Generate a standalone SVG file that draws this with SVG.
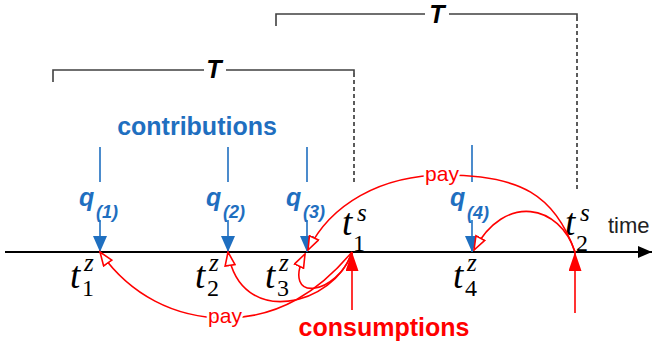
<svg xmlns="http://www.w3.org/2000/svg" width="654" height="352" viewBox="0 0 654 352">
<defs>
<style>
.br{fill:none;stroke:#404040;stroke-width:1.6}
.dash{fill:none;stroke:#333;stroke-width:1.6;stroke-dasharray:4 3}
.T{font-family:"Liberation Sans",Arial,sans-serif;font-weight:bold;font-style:italic;font-size:25px;fill:#000;text-anchor:middle}
.bl{stroke:#1F6FC0;stroke-width:1.6;fill:none}
.q{font-family:"Liberation Sans",Arial,sans-serif;font-weight:bold;font-style:italic;font-size:25px;fill:#1F6FC0}
.qs{font-family:"Liberation Sans",Arial,sans-serif;font-weight:bold;font-style:italic;font-size:18px;fill:#1F6FC0}
.rd{stroke:#FF0000;stroke-width:1.6;fill:none}
.tv{font-family:"Liberation Serif","Times New Roman",serif;font-style:italic;font-size:37px;fill:#000}
.sp{font-family:"Liberation Serif","Times New Roman",serif;font-style:italic;font-size:25px;fill:#000}
.sb{font-family:"Liberation Serif","Times New Roman",serif;font-size:24px;fill:#000}
.pay{font-family:"Liberation Sans",Arial,sans-serif;font-size:21px;fill:#FF0000;text-anchor:middle;stroke:#fff;stroke-width:5;paint-order:stroke;stroke-linejoin:round}
.big{font-family:"Liberation Sans",Arial,sans-serif;font-weight:bold;font-size:25px;text-anchor:middle}
</style>
<marker id="aBlack" markerUnits="userSpaceOnUse" markerWidth="14" markerHeight="12" refX="14" refY="6" orient="auto"><path d="M0,0 L14,6 L0,12 z" fill="#000"/></marker>
<marker id="aBlue" markerUnits="userSpaceOnUse" markerWidth="16" markerHeight="14" refX="16" refY="7" orient="auto"><path d="M0,0 L16,7 L0,14 z" fill="#1F6FC0"/></marker>
<marker id="aRed" markerUnits="userSpaceOnUse" markerWidth="19" markerHeight="13" refX="19" refY="6.5" orient="auto"><path d="M0,0 L19,6.5 L0,13 z" fill="#FF0000"/></marker>
<marker id="aOpen" markerUnits="userSpaceOnUse" markerWidth="16" markerHeight="12" refX="14.5" refY="6" orient="auto"><path d="M1,1 L14.5,6 L1,11 z" fill="#fff" stroke="#FF0000" stroke-width="1.6"/></marker>
</defs>
<rect width="654" height="352" fill="#fff"/>

<g id="timeline">
<line x1="5" y1="252" x2="652" y2="252" stroke="#000" stroke-width="2" marker-end="url(#aBlack)"/>
<text x="608" y="233" font-family="Liberation Sans,Arial,sans-serif" font-size="22" fill="#222">time</text>
</g>

<g id="period1">
<path class="br" d="M53,82 V70 H204 M226,70 H354 V73"/>
<path class="dash" d="M354,73 V185"/>
<text class="T" x="214" y="78">T</text>
</g>
<g id="period2">
<path class="br" d="M276,26 V14 H425 M449,14 H577 V17"/>
<path class="dash" d="M577,17 V191"/>
<text class="T" x="437" y="23">T</text>
</g>

<g id="contributions-label"><text class="big" x="197" y="135" fill="#1F6FC0">contributions</text></g>
<g id="consumptions-label"><text class="big" x="384" y="336" fill="#FF0000">consumptions</text></g>

<g id="t1z"><text class="tv" x="70" y="288">t</text><text class="sp" x="84" y="271">z</text><text class="sb" x="82" y="296">1</text></g>
<g id="t2z"><text class="tv" x="195" y="288">t</text><text class="sp" x="209" y="271">z</text><text class="sb" x="207" y="296">2</text></g>
<g id="t3z"><text class="tv" x="265" y="288">t</text><text class="sp" x="279" y="271">z</text><text class="sb" x="277" y="296">3</text></g>
<g id="t4z"><text class="tv" x="453" y="288">t</text><text class="sp" x="467" y="271">z</text><text class="sb" x="465" y="296">4</text></g>
<g id="t1s"><text class="tv" x="342" y="235">t</text><text class="sp" x="357" y="221">s</text><text class="sb" x="353" y="251">1</text></g>
<g id="t2s"><text class="tv" x="565" y="235">t</text><text class="sp" x="580" y="221">s</text><text class="sb" x="576" y="251">2</text></g>

<g id="q1"><text class="q" x="79" y="206">q</text><text class="qs" x="96" y="218">(1)</text></g>
<g id="q2"><text class="q" x="206" y="206">q</text><text class="qs" x="223" y="218">(2)</text></g>
<g id="q3"><text class="q" x="286" y="206">q</text><text class="qs" x="303" y="218">(3)</text></g>
<g id="q4"><text class="q" x="450" y="206">q</text><text class="qs" x="467" y="219">(4)</text></g>

<g id="connectors">
<g id="contribution-arrows">
<line class="bl" x1="100" y1="147" x2="100" y2="182"/><line class="bl" x1="100" y1="220" x2="100" y2="252" marker-end="url(#aBlue)"/>
<line class="bl" x1="228" y1="147" x2="228" y2="182"/><line class="bl" x1="228" y1="220" x2="228" y2="252" marker-end="url(#aBlue)"/>
<line class="bl" x1="307" y1="147" x2="307" y2="182"/><line class="bl" x1="307" y1="220" x2="307" y2="252" marker-end="url(#aBlue)"/>
<line class="bl" x1="472" y1="145" x2="472" y2="182"/><line class="bl" x1="472" y1="220" x2="472" y2="252" marker-end="url(#aBlue)"/>
</g>
<g id="consumption-arrows">
<line class="rd" x1="352" y1="310" x2="352" y2="252" marker-end="url(#aRed)"/>
<line class="rd" x1="575" y1="313" x2="575" y2="252" marker-end="url(#aRed)"/>
</g>
<g id="payments">
<path class="rd" d="M352,252 C320,290 280,318 225,318 C175,318 130,295 100,252" marker-end="url(#aOpen)"/>
<path class="rd" d="M352,252 C335,305 240,330 228,252" marker-end="url(#aOpen)"/>
<path class="rd" d="M352,252 C338,295 280,305 305,254" marker-end="url(#aOpen)"/>
<path class="rd" d="M575,252 C555,195 520,175 445,175 C380,175 330,205 308,250" marker-end="url(#aOpen)"/>
<path class="rd" d="M575,252 C560,205 505,192 474,250" marker-end="url(#aOpen)"/>
<text class="pay" x="225" y="323">pay</text>
<text class="pay" x="442" y="181">pay</text>
</g>
</g>
</svg>
